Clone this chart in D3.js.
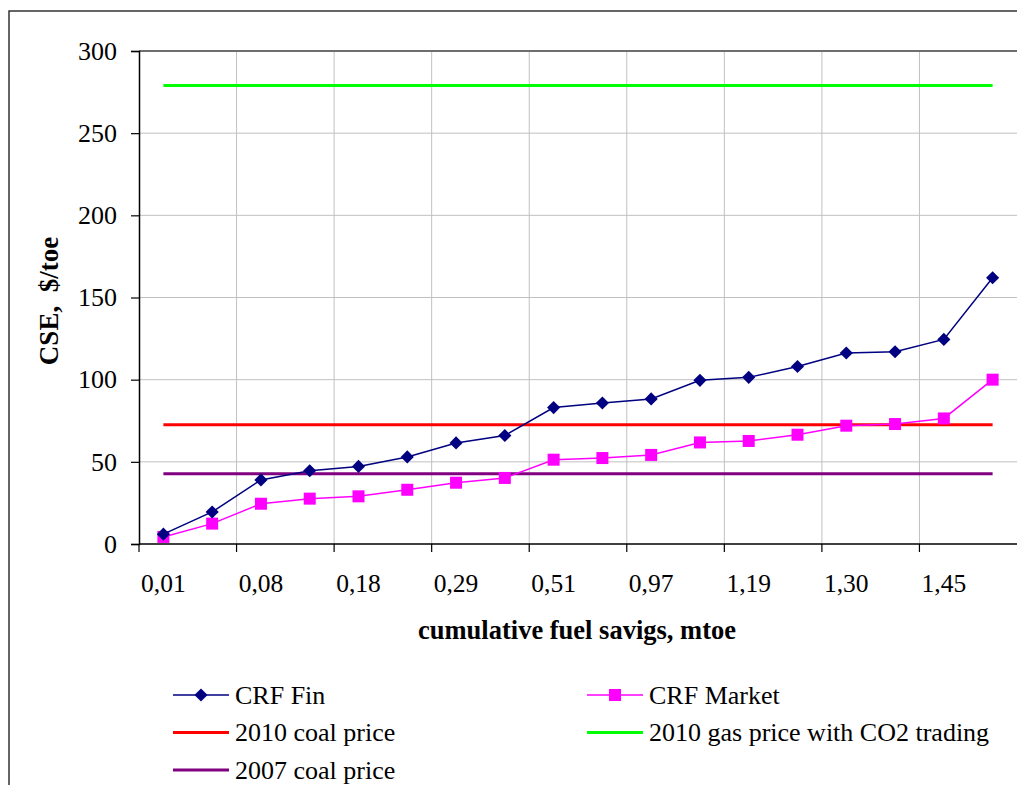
<!DOCTYPE html>
<html>
<head>
<meta charset="utf-8">
<script src="https://cdn.jsdelivr.net/npm/d3@7"></script>
<style>
  html, body { margin: 0; padding: 0; background: #fff; }
  svg { display: block; }
  text { font-family: "Liberation Serif", "Times New Roman", serif; fill: #000; }
</style>
</head>
<body>
<svg id="chart" width="1017" height="785"></svg>
<script>
// Cumulative fuel savings steps (18 measures); labels shown on every second step
const tickLabels = ["0,01", "0,08", "0,18", "0,29", "0,51", "0,97", "1,19", "1,30", "1,45"];
const steps = d3.range(18);

// Cost of saved energy, $/toe
const crfFin    = [6, 19.5, 39, 44.6, 47.2, 53, 61.5, 66, 83, 85.8, 88.3, 99.6, 101.4, 108, 116.2, 117, 124.5, 162];
const crfMarket = [4.3, 12.4, 24.5, 27.6, 29, 33, 37.3, 40.2, 51.3, 52.3, 54.2, 61.8, 62.7, 66.5, 72, 73, 76.4, 100];

// Reference price levels, $/toe
const coal2010 = 72.6;
const gas2010Co2 = 279;
const coal2007 = 42.8;

const yTicks = [0, 50, 100, 150, 200, 250, 300];

const svg = d3.select("#chart");

const plot = { left: 139, right: 1017, top: 51, bottom: 544 };

const x = d3.scaleBand().domain(steps).range([plot.left, plot.right]);
const y = d3.scaleLinear().domain([0, 300]).range([plot.bottom, plot.top]);
const cx = i => x(i) + x.bandwidth() / 2;

// Outer chart frame
svg.append("rect")
  .attr("x", 9).attr("y", 11)
  .attr("width", 1100).attr("height", 900)
  .attr("fill", "none").attr("stroke", "#333").attr("stroke-width", 1.5);

// Horizontal gridlines
svg.append("g").selectAll("line")
  .data(yTicks.filter(v => v > 0 && v < 300))
  .join("line")
  .attr("x1", plot.left).attr("x2", plot.right)
  .attr("y1", d => y(d)).attr("y2", d => y(d))
  .attr("stroke", "#c0c0c0").attr("stroke-width", 1);

// Vertical gridlines at every second step boundary
const gridSteps = steps.filter(i => i > 0 && i % 2 === 0);
svg.append("g").selectAll("line")
  .data(gridSteps)
  .join("line")
  .attr("x1", d => x(d)).attr("x2", d => x(d))
  .attr("y1", plot.top).attr("y2", plot.bottom)
  .attr("stroke", "#c0c0c0").attr("stroke-width", 1);

// Top edge of the plot area
svg.append("line")
  .attr("x1", plot.left).attr("x2", plot.right)
  .attr("y1", y(300)).attr("y2", y(300))
  .attr("stroke", "#6e6e6e").attr("stroke-width", 2);

// Y axis
const yAxis = svg.append("g").attr("transform", `translate(${plot.left},0)`)
  .call(d3.axisLeft(y).tickValues(yTicks).tickSize(8).tickPadding(14).tickFormat(d3.format("d")));
yAxis.select(".domain").attr("stroke", "#000").attr("stroke-width", 1.5);
yAxis.selectAll(".tick line").attr("stroke", "#000").attr("stroke-width", 1.2);
yAxis.selectAll(".tick text")
  .attr("font-family", "Liberation Serif, serif").attr("font-size", 26).attr("fill", "#000");

// X axis: tick marks at boundaries, labels under every second step
const xg = svg.append("g");
xg.append("line")
  .attr("x1", plot.left).attr("x2", plot.right)
  .attr("y1", plot.bottom).attr("y2", plot.bottom)
  .attr("stroke", "#000").attr("stroke-width", 1.5);
xg.selectAll("line.tick")
  .data(steps.filter(i => i % 2 === 0))
  .join("line").attr("class", "tick")
  .attr("x1", d => x(d)).attr("x2", d => x(d))
  .attr("y1", plot.bottom).attr("y2", plot.bottom + 8)
  .attr("stroke", "#000").attr("stroke-width", 1.2);
xg.selectAll("text")
  .data(tickLabels)
  .join("text")
  .attr("x", (d, i) => cx(i * 2))
  .attr("y", 592)
  .attr("text-anchor", "middle")
  .attr("font-size", 25.5)
  .text(d => d);

// Axis titles
svg.append("text")
  .attr("x", 577).attr("y", 639)
  .attr("text-anchor", "middle")
  .attr("font-size", 26.5).attr("font-weight", "bold")
  .text("cumulative fuel savigs, mtoe");

svg.append("text")
  .attr("transform", "translate(58,301) rotate(-90)")
  .attr("text-anchor", "middle")
  .attr("font-size", 27).attr("font-weight", "bold")
  .attr("xml:space", "preserve")
  .style("white-space", "pre")
  .text("CSE,  $/toe");

// Reference price lines
const flat = v => steps.map(() => v);
const line = d3.line().x((d, i) => cx(i)).y(d => y(d));

const refs = [
  { values: flat(gas2010Co2), color: "#00ff00" },
  { values: flat(coal2010), color: "#ff0000" },
  { values: flat(coal2007), color: "#800080" }
];
svg.append("g").selectAll("path")
  .data(refs)
  .join("path")
  .attr("d", d => line(d.values))
  .attr("fill", "none")
  .attr("stroke", d => d.color)
  .attr("stroke-width", 3);

// CRF Market series (squares)
svg.append("path")
  .attr("d", line(crfMarket))
  .attr("fill", "none").attr("stroke", "#ff00ff").attr("stroke-width", 1.5);
svg.append("g").selectAll("rect")
  .data(crfMarket)
  .join("rect")
  .attr("x", (d, i) => cx(i) - 6).attr("y", d => y(d) - 6)
  .attr("width", 12).attr("height", 12)
  .attr("fill", "#ff00ff");

// CRF Fin series (diamonds)
svg.append("path")
  .attr("d", line(crfFin))
  .attr("fill", "none").attr("stroke", "#000080").attr("stroke-width", 1.5);
const diamond = d3.symbol().type(d3.symbolDiamond2).size(110);
svg.append("g").selectAll("path")
  .data(crfFin)
  .join("path")
  .attr("transform", (d, i) => `translate(${cx(i)},${y(d)})`)
  .attr("d", diamond)
  .attr("fill", "#000080");

// Legend
const legend = [
  { label: "CRF Fin", color: "#000080", marker: "diamond", width: 1.5, col: 0, row: 0 },
  { label: "CRF Market", color: "#ff00ff", marker: "square", width: 1.5, col: 1, row: 0 },
  { label: "2010 coal price", color: "#ff0000", marker: null, width: 3, col: 0, row: 1 },
  { label: "2010 gas price with CO2 trading", color: "#00ff00", marker: null, width: 3, col: 1, row: 1 },
  { label: "2007 coal price", color: "#800080", marker: null, width: 3, col: 0, row: 2 }
];
const colX = [173, 587];
const rowY = [695, 732.5, 770];
const lg = svg.append("g").selectAll("g")
  .data(legend)
  .join("g")
  .attr("transform", d => `translate(${colX[d.col]},${rowY[d.row]})`);
lg.append("line")
  .attr("x1", 0).attr("x2", 56).attr("y1", 0).attr("y2", 0)
  .attr("stroke", d => d.color).attr("stroke-width", d => d.width);
lg.filter(d => d.marker === "diamond").append("path")
  .attr("transform", "translate(28,0)")
  .attr("d", diamond)
  .attr("fill", d => d.color);
lg.filter(d => d.marker === "square").append("rect")
  .attr("x", 22).attr("y", -6).attr("width", 12).attr("height", 12)
  .attr("fill", d => d.color);
lg.append("text")
  .attr("x", 62).attr("y", 8.5)
  .attr("font-size", 26)
  .text(d => d.label);
</script>
</body>
</html>
